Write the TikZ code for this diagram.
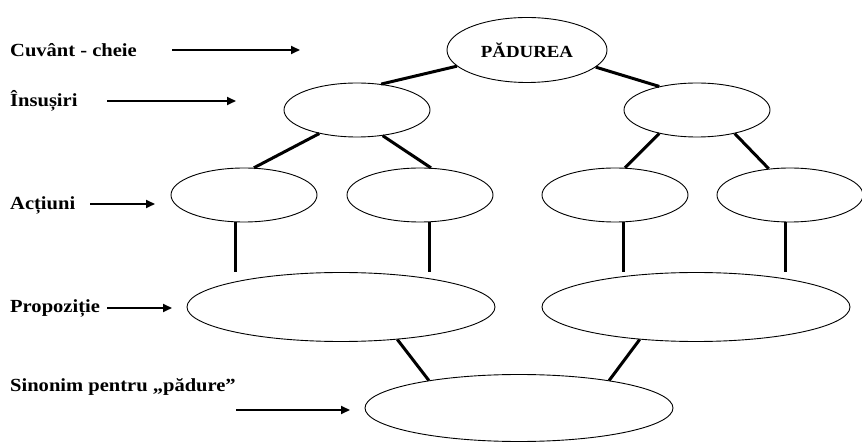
\documentclass[tikz,border=0pt]{standalone}
\usepackage{fontspec}
\setmainfont{Liberation Serif}[FakeStretch=1.11,BoldFeatures={FakeStretch=1.11}]
\usetikzlibrary{arrows.meta,shapes.geometric,calc}
\tikzset{
    bubble/.style={ellipse,draw,line width=0.9pt,inner sep=0pt},
    small bubble/.style={bubble,minimum width=146pt,minimum height=54pt},
    big bubble/.style={bubble,minimum width=308pt,minimum height=69pt},
    top bubble/.style={bubble,minimum width=160pt,minimum height=65pt,font=\fontsize{17}{19}\selectfont\bfseries},
    link/.style={line width=3pt},
    arr/.style={-{Triangle[length=9pt,width=8pt]},line width=2pt},
    row label/.style={anchor=west,inner sep=0pt},
}
\tikzstyle{every node}=[font=\fontsize{18.5}{20}\selectfont\bfseries]

\begin{document}
\begin{tikzpicture}[x=1pt,y=-1pt]
        \useasboundingbox (0,0) rectangle (862,443);
        % row labels
        \node[row label] (lblKey) at (10,50) {Cuvânt - cheie};
        \node[row label] (lblTrait) at (10,101) {Însușiri};
        \node[row label] (lblAct) at (10,205) {Acțiuni};
        \node[row label] (lblSent) at (10,308) {Propoziție};
        \node[row label] (lblSyn) at (10,387) {Sinonim pentru „pădure”};
        \coordinate (keyTail) at (172,50);   \coordinate (keyTip) at (300,50);
        \coordinate (traitTail) at (107,101); \coordinate (traitTip) at (236,101);
        \coordinate (actTail) at (90,204);   \coordinate (actTip) at (155,204);
        \coordinate (sentTail) at (107,308); \coordinate (sentTip) at (172,308);
        \coordinate (synTail) at (236,410);  \coordinate (synTip) at (350,410);
        \foreach \r in {key,trait,act,sent,syn}
            \draw[arr] (\r Tail) -- (\r Tip);

        % the tree
        \node[top bubble] (forest) at (527,50) {PĂDUREA};
        \node[small bubble] (traitL) at (357,110) {};
        \node[small bubble] (traitR) at (697,110) {};
        \node[small bubble] (actL1) at (244,195) {};
        \node[small bubble] (actL2) at (420,195) {};
        \node[small bubble] (actR1) at (615,195) {};
        \node[small bubble] (actR2) at (790,195) {};
        \node[big bubble] (sentL) at (341,307) {};
        \node[big bubble] (sentR) at (696,307) {};
        \node[big bubble,minimum height=67pt] (syn) at (519,408) {};

        \draw[link] (forest.193) -- (traitL.47);
        \draw[link] (forest.346) -- (traitR.148);
        \draw[link] (traitL.212) -- (actL1.70);
        \draw[link] (traitL.315) -- (actL2.68);
        \draw[link] (traitR.212) -- (actR1.70);
        \draw[link] (traitR.328) -- (actR2.129);
        \draw[link] (actL1.253) -- (actL1.253 |- sentL.north);
        \draw[link] (actL2.290) -- (actL2.290 |- sentL.north);
        \draw[link] (actR1.287) -- (actR1.287 |- sentR.north);
        \draw[link] (actR2.260) -- (actR2.260 |- sentR.north);
        \draw[link] (sentL.330) -- (syn.163);
        \draw[link] (sentR.210) -- (syn.17);
    \end{tikzpicture}
\end{document}
